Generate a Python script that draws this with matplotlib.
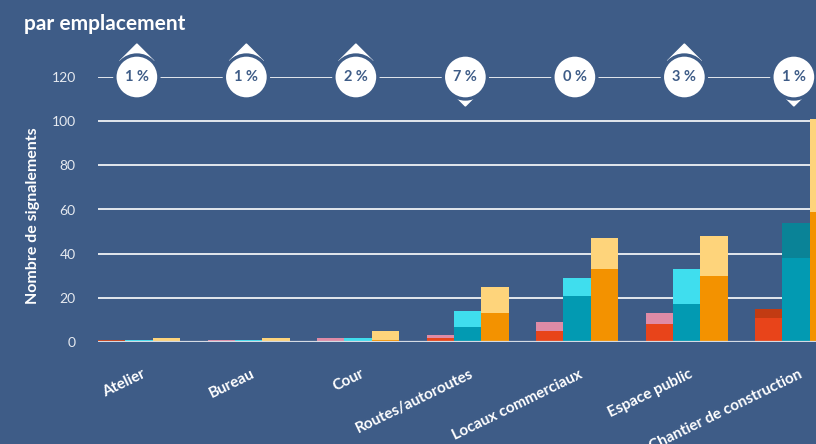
import numpy as np
import matplotlib
matplotlib.use("Agg")
import matplotlib.pyplot as plt
from matplotlib.patches import Circle, Polygon
from matplotlib.transforms import ScaledTranslation

# data
categories = ["Atelier", "Bureau", "Cour", "Routes/autoroutes",
              "Locaux commerciaux", "Espace public", "Chantier de construction"]
# three stacked bars per category: (lower part, total height)
red_low = [0, 0, 0, 2, 5, 8, 11]
red_total = [1, 1, 2, 3, 9, 13, 15]
teal_low = [0, 0, 0, 7, 21, 17, 38]
teal_total = [1, 1, 2, 14, 29, 33, 54]
orange_low = [0, 0, 1, 13, 33, 30, 59]
orange_total = [2, 2, 5, 25, 47, 48, 101]
change_labels = ["1 %", "1 %", "2 %", "7 %", "0 %", "3 %", "1 %"]
change_dir = [1, 1, 1, -1, 0, 1, -1]
yticks = [0, 20, 40, 60, 80, 100, 120]

# colours
BG = "#3e5c87"
RED, PINK, DARKRED = "#e8441a", "#df8ba6", "#c23b12"
TEAL, CYAN, DARKTEAL = "#029ab2", "#3fdeee", "#0a8397"
ORANGE, YELLOW = "#f39200", "#fed47b"
# upper segment darker where the total went down
red_top_col = [DARKRED, PINK, PINK, PINK, PINK, PINK, DARKRED]
teal_top_col = [CYAN, CYAN, CYAN, CYAN, CYAN, CYAN, DARKTEAL]

plt.rcParams["font.family"] = ["Lato", "DejaVu Sans"]

fig = plt.figure(figsize=(8.16, 4.44), dpi=100, facecolor=BG)
W, H = 816, 444
x0, x1, y0, y1 = 98, 816, 342, 77
ax = fig.add_axes([x0 / W, 1 - y0 / H, (x1 - x0) / W, (y0 - y1) / H])
ax.set_facecolor(BG)

x = np.arange(len(categories))
w = 0.25
lo = -1.5 * w
px = 109.5  # pixels per category
ax.set_xlim(lo, lo + (x1 - x0) / px)
ax.set_ylim(0, 120)

for i in range(len(categories)):
    ax.bar(x[i] - w, red_low[i], w, color=RED, zorder=2)
    ax.bar(x[i] - w, red_total[i] - red_low[i], w, bottom=red_low[i],
           color=red_top_col[i], zorder=2)
    ax.bar(x[i], teal_low[i], w, color=TEAL, zorder=2)
    ax.bar(x[i], teal_total[i] - teal_low[i], w, bottom=teal_low[i],
           color=teal_top_col[i], zorder=2)
    ax.bar(x[i] + w, orange_low[i], w, color=ORANGE, zorder=2)
    ax.bar(x[i] + w, orange_total[i] - orange_low[i], w, bottom=orange_low[i],
           color=YELLOW, zorder=2)

for v in yticks[1:]:
    ax.axhline(v, color="white", lw=1.2, zorder=1)
ax.axhline(0, color="#d5dbe4", lw=1.6, zorder=3)

for s in ax.spines.values():
    s.set_visible(False)
ax.set_yticks(yticks)
ax.tick_params(axis="y", length=0, pad=16, labelsize=10, labelcolor="#e6eaf0")
ax.set_xticks(x)
ax.set_xticklabels(categories, rotation=26, ha="right", rotation_mode="anchor",
                   fontsize=11, fontweight="bold", color="white")
ax.tick_params(axis="x", length=0, pad=18)
for lbl in ax.get_xticklabels():
    lbl.set_transform(lbl.get_transform() + ScaledTranslation(0.02, 0, fig.dpi_scale_trans))

ax.set_ylabel("Nombre de signalements", color="white", fontsize=11.5,
              fontweight="bold")
ax.yaxis.set_label_coords(-0.081, 0.475)

# change bubbles on the 120 line
for i in range(len(categories)):
    tr = fig.dpi_scale_trans + ScaledTranslation(x[i] - 0.02, 120, ax.transData)
    d = change_dir[i]
    if d > 0:
        tri = Polygon([(-0.17, 0.16), (0.17, 0.16), (0, 0.33)], closed=True,
                      transform=tr, color="white", clip_on=False, zorder=4)
        ax.add_patch(tri)
    elif d < 0:
        tri = Polygon([(-0.13, -0.16), (0.13, -0.16), (0, -0.29)], closed=True,
                      transform=tr, color="white", clip_on=False, zorder=4)
        ax.add_patch(tri)
    c = Circle((0, 0), 0.22, transform=tr, facecolor="white", edgecolor=BG,
               lw=2.4, clip_on=False, zorder=5)
    ax.add_patch(c)
    ax.text(0, 0, change_labels[i], transform=tr, ha="center", va="center",
            fontsize=10.5, fontweight="bold", color=BG, zorder=6)

fig.text(24 / W, 1 - 24 / H, "par emplacement", color="white", fontsize=15,
         fontweight="bold", ha="left", va="center")

fig.savefig("out.png", dpi=100, facecolor=BG)
